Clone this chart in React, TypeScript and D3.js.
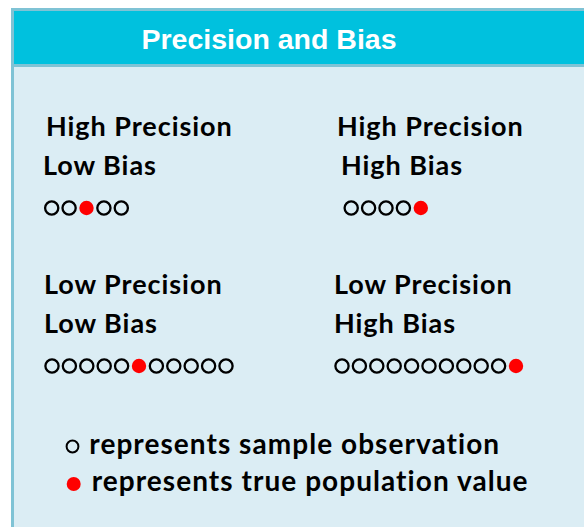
import React, { useEffect, useRef } from "react"
import * as d3 from "d3"

// panel data
const precisionLabels = ["High Precision", "High Precision", "Low Precision", "Low Precision"]
const biasLabels = ["Low Bias", "High Bias", "Low Bias", "High Bias"]
const observationCounts = [4, 4, 10, 10]
const truePositions = [2, 4, 5, 10]

const legendLabels = ["represents sample observation", "represents true population value"]

const App = () => {
  const ref = useRef<SVGSVGElement>(null)

  useEffect(() => {
    const svg = d3.select(ref.current)
    svg.selectAll("*").remove()

    const width = 584
    const height = 527
    const border = "#7fc3d5"
    const headerFill = "#00c1de"
    const bodyFill = "#dbedf4"
    const font = "Lato, 'Open Sans', sans-serif"

    // frame
    svg.append("rect").attr("x", 11).attr("y", 8).attr("width", width).attr("height", height).attr("fill", border)
    svg.append("rect").attr("x", 14).attr("y", 11).attr("width", width).attr("height", 53).attr("fill", headerFill)
    svg.append("rect").attr("x", 14).attr("y", 67).attr("width", width).attr("height", height).attr("fill", bodyFill)

    svg
      .append("text")
      .attr("x", 269)
      .attr("y", 49)
      .attr("text-anchor", "middle")
      .attr("fill", "#ffffff")
      .attr("font-family", "'Liberation Sans', Arial, sans-serif")
      .attr("font-weight", "bold")
      .attr("font-size", 28.5)
      .text("Precision and Bias")

    // layout of the four panels
    const titleX = [46, 337, 44, 334]
    const biasX = [43, 341, 44, 334]
    const dotStart = [43, 342.5, 43.3, 333.3]
    const rowTop = [136, 136, 294, 294]
    const pitch = 17.4

    const panels = precisionLabels.map((p, i) => ({
      precision: p,
      bias: biasLabels[i],
      n: observationCounts[i] + 1,
      truth: truePositions[i],
      i,
    }))

    const g = svg
      .selectAll("g.panel")
      .data(panels)
      .enter()
      .append("g")
      .attr("class", "panel")

    g.append("text")
      .attr("x", (d) => titleX[d.i])
      .attr("y", (d) => rowTop[d.i])
      .attr("font-family", font)
      .attr("font-weight", "bold")
      .attr("font-size", 27)
      .attr("letter-spacing", 0.95)
      .attr("fill", "#000")
      .text((d) => d.precision)

    g.append("text")
      .attr("x", (d) => biasX[d.i])
      .attr("y", (d) => rowTop[d.i] + 38.5)
      .attr("font-family", font)
      .attr("font-weight", "bold")
      .attr("font-size", 27)
      .attr("letter-spacing", 0.95)
      .attr("fill", "#000")
      .text((d) => d.bias)

    g.each(function (d) {
      const x = d3
        .scaleLinear()
        .domain([0, d.n])
        .range([dotStart[d.i], dotStart[d.i] + d.n * pitch])
      const cy = rowTop[d.i] + 72
      d3.select(this)
        .selectAll("circle")
        .data(d3.range(d.n))
        .enter()
        .append("circle")
        .attr("cx", (k) => x(k + 0.5))
        .attr("cy", cy)
        .attr("r", (k) => (k === d.truth ? 7.2 : 6.6))
        .attr("fill", (k) => (k === d.truth ? "#ff0000" : "none"))
        .attr("stroke", (k) => (k === d.truth ? "none" : "#000"))
        .attr("stroke-width", 2.3)
    })

    // legend
    const legendY = d3.scaleLinear().domain([0, 1]).range([446.5, 484])
    const legend = svg
      .selectAll("g.legend")
      .data(legendLabels)
      .enter()
      .append("g")
      .attr("class", "legend")

    legend
      .append("circle")
      .attr("cx", (d, i) => (i === 0 ? 72.5 : 73.7))
      .attr("cy", (d, i) => legendY(i))
      .attr("r", (d, i) => (i === 0 ? 5.9 : 7))
      .attr("fill", (d, i) => (i === 0 ? "none" : "#ff0000"))
      .attr("stroke", (d, i) => (i === 0 ? "#000" : "none"))
      .attr("stroke-width", 2)

    legend
      .append("text")
      .attr("x", (d, i) => (i === 0 ? 89.3 : 91.7))
      .attr("y", (d, i) => legendY(i) + 7)
      .attr("font-family", font)
      .attr("font-weight", "bold")
      .attr("font-size", 28)
      .attr("letter-spacing", 1.05)
      .attr("fill", "#000")
      .text((d) => d)
  }, [])

  return (
    <svg
      ref={ref}
      width={584}
      height={527}
      style={{ position: "absolute", left: 0, top: 0, display: "block" }}
    />
  )
}

export default App
